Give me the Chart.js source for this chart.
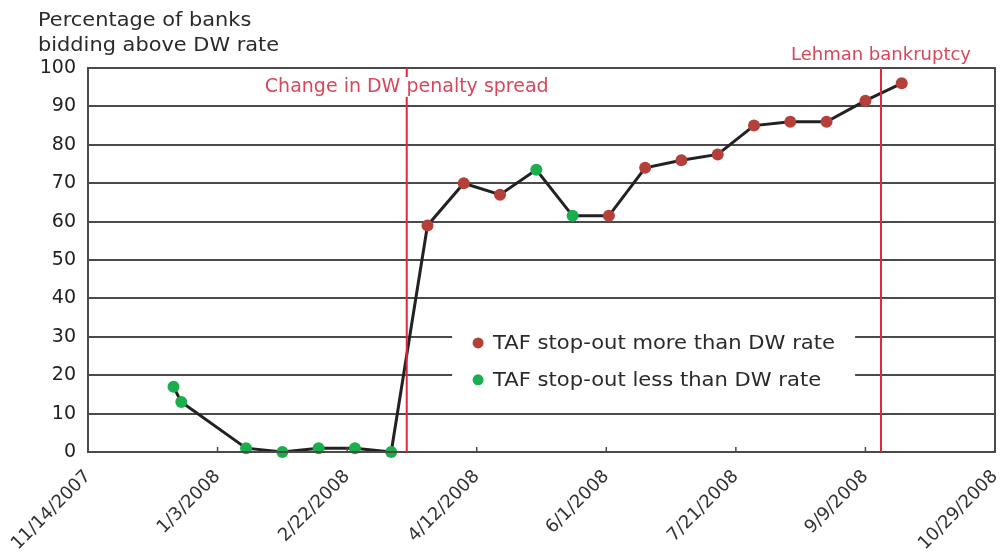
<!DOCTYPE html>
<html>
<head>
<meta charset="utf-8">
<script src="https://cdn.jsdelivr.net/npm/chart.js@4/dist/chart.umd.min.js"></script>
<style>
  html, body { margin: 0; padding: 0; background: #fff; }
  #wrap { width: 1008px; height: 554px; }
</style>
</head>
<body>
<div id="wrap"><canvas id="c"></canvas></div>
<script>
// --- data ---
const auctionDates = ['2007-12-17','2007-12-20','2008-01-14','2008-01-28','2008-02-11','2008-02-25','2008-03-10',
  '2008-03-24','2008-04-07','2008-04-21','2008-05-05','2008-05-19','2008-06-02','2008-06-16','2008-06-30',
  '2008-07-14','2008-07-28','2008-08-11','2008-08-25','2008-09-09','2008-09-23'];
const pctAbove = [17, 13, 1, 0, 1, 1, 0, 59, 70, 67, 73.5, 61.5, 61.5, 74, 76, 77.5, 85, 86, 86, 91.5, 96];
const stopOut = ['less','less','less','less','less','less','less','more','more','more','less','less','more',
  'more','more','more','more','more','more','more','more'];
const eventDates = ['2008-03-16', '2008-09-15'];
const eventLabels = ['Change in DW penalty spread', 'Lehman bankruptcy'];
const legendLabels = ['TAF stop-out more than DW rate', 'TAF stop-out less than DW rate'];
const yTitle = ['Percentage of banks', 'bidding above DW rate'];

const FONT = '"DejaVu Sans", Verdana, sans-serif';
const RED_PT = '#b5403a';
const GREEN_PT = '#1aae4c';
const RED_LINE = '#e0283a';
const RED_TEXT = '#d8475a';
const GRID = '#4a4a4a';

// days since 11/14/2007 (no date adapter available)
const base = Date.UTC(2007, 10, 14);
const toDay = s => { const [y, m, d] = s.split('-').map(Number); return (Date.UTC(y, m - 1, d) - base) / 86400000; };
const fmtDay = v => { const d = new Date(base + v * 86400000); return (d.getUTCMonth() + 1) + '/' + d.getUTCDate() + '/' + d.getUTCFullYear(); };

const points = auctionDates.map((d, i) => ({ x: toDay(d), y: pctAbove[i] }));
const ptColors = stopOut.map(t => t === 'more' ? RED_PT : GREEN_PT);

// text drawn a bit wider, like the source artwork
function wideText(ctx, text, x, y, sx) {
  ctx.save();
  ctx.translate(x, y);
  ctx.scale(sx, 1);
  ctx.fillText(text, 0, 0);
  ctx.restore();
}

// frame, inner tick marks, event lines, labels, legend, axis title
const extras = {
  id: 'extras',
  afterDatasetsDraw(chart) {
    const { ctx, chartArea: a, scales: { x, y } } = chart;
    ctx.save();
    ctx.strokeStyle = GRID;
    ctx.lineWidth = 2;
    ctx.strokeRect(a.left, a.top, a.right - a.left, a.bottom - a.top);
    ctx.lineWidth = 1.5;
    x.ticks.forEach(t => {
      const px = x.getPixelForValue(t.value);
      ctx.beginPath();
      ctx.moveTo(px, a.bottom);
      ctx.lineTo(px, a.bottom - 5);
      ctx.stroke();
    });

    // event lines
    ctx.textBaseline = 'middle';
    eventDates.forEach((d, i) => {
      const px = x.getPixelForValue(toDay(d));
      ctx.strokeStyle = RED_LINE;
      ctx.lineWidth = 2;
      ctx.beginPath();
      ctx.moveTo(px, a.top);
      ctx.lineTo(px, a.bottom);
      ctx.stroke();
      ctx.font = (i === 0 ? 19 : 18) + 'px ' + FONT;
      ctx.textAlign = 'left';
      const w = ctx.measureText(eventLabels[i]).width;
      const ty = i === 0 ? a.top + 19 : a.top - 13;
      if (i === 0) {
        ctx.fillStyle = '#fff';
        ctx.fillRect(px - w / 2 - 3, ty - 10, w + 6, 20);
      }
      ctx.fillStyle = RED_TEXT;
      ctx.fillText(eventLabels[i], px - w / 2, ty);
    });

    // legend inside the plot
    const bx = x.getPixelForValue(140.5);
    const rows = [y.getPixelForValue(28.4), y.getPixelForValue(18.8)];
    ctx.fillStyle = '#fff';
    ctx.fillRect(bx, rows[0] - 16, 403, rows[1] - rows[0] + 32);
    const cols = [RED_PT, GREEN_PT];
    ctx.font = '19px ' + FONT;
    ctx.textAlign = 'left';
    legendLabels.forEach((t, i) => {
      ctx.fillStyle = cols[i];
      ctx.beginPath();
      ctx.arc(bx + 26, rows[i], 5.5, 0, Math.PI * 2);
      ctx.fill();
      ctx.fillStyle = '#2a2a2a';
      wideText(ctx, t, bx + 41, rows[i] + 1, 1.11);
    });

    // axis title, top left
    ctx.fillStyle = '#2a2a2a';
    yTitle.forEach((t, i) => wideText(ctx, t, 38, 21 + i * 25, 1.1));
    ctx.restore();
  }
};

new Chart(document.getElementById('c'), {
  type: 'line',
  data: {
    datasets: [{
      data: points,
      borderColor: '#222',
      borderWidth: 3,
      pointRadius: 6,
      pointBackgroundColor: ptColors,
      pointBorderColor: ptColors,
      pointBorderWidth: 0,
      tension: 0,
      clip: false
    }]
  },
  options: {
    responsive: true,
    maintainAspectRatio: false,
    animation: false,
    layout: { padding: { left: 38, right: 13, top: 68, bottom: 0 } },
    plugins: {
      legend: { display: false },
      tooltip: { enabled: false },
      title: { display: false }
    },
    scales: {
      x: {
        type: 'linear',
        min: 0,
        max: 350,
        afterFit: s => { s.height = 102; s.paddingLeft = 0; s.paddingRight = 0; },
        grid: { display: false },
        border: { display: true, color: GRID, width: 2 },
        ticks: {
          stepSize: 50,
          minRotation: 45,
          maxRotation: 45,
          padding: 6,
          color: '#333',
          font: { family: FONT, size: 18 },
          callback: v => fmtDay(v)
        }
      },
      y: {
        min: 0,
        max: 100,
        afterFit: s => { s.width = 50; },
        grid: { color: GRID, lineWidth: 2, drawTicks: false },
        border: { display: true, color: GRID, width: 2 },
        ticks: {
          stepSize: 10,
          padding: 12,
          color: '#222',
          font: { family: FONT, size: 19 }
        }
      }
    }
  },
  plugins: [extras]
});
</script>
</body>
</html>
